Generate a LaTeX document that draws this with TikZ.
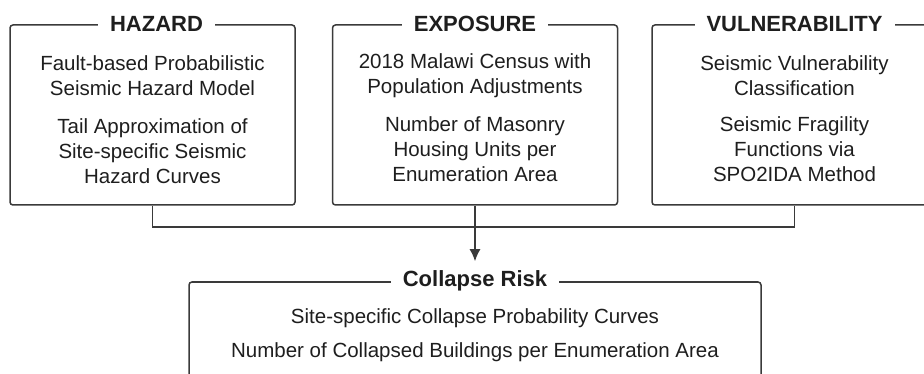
\documentclass[tikz,border=0pt]{standalone}
\usepackage{fontspec}
\setmainfont{Liberation Sans}
\usetikzlibrary{arrows.meta,positioning}
\definecolor{linegray}{HTML}{3A3A3A}
\definecolor{textgray}{HTML}{1E1E1E}
\tikzset{>={Latex[length=12pt,width=11pt]}}
\tikzstyle{stage}=[rectangle,draw=linegray,line width=1.5pt,rounded corners=3pt,minimum width=285pt,minimum height=180pt,inner sep=0pt]
\tikzstyle{heading}=[fill=white,text=textgray,font=\fontsize{22}{26}\selectfont\bfseries,inner xsep=12pt,inner ysep=2pt]
\tikzstyle{item}=[align=center,text=textgray,font=\fontsize{20.5}{25}\selectfont,inner sep=0pt]
\tikzstyle{link}=[draw=linegray,line width=1.5pt]

\begin{document}
\begin{tikzpicture}[x=1pt,y=-1pt]
	\useasboundingbox (0,0) rectangle (924,374);
	\clip (0,0) rectangle (924,374);

	\node[stage] (hazard) at (152.5,115) {};
	\node[stage] (exposure) at (475,115) {};
	\node[stage] (vulnerability) at (794.5,115) {};
	\node[stage, minimum width=572pt, minimum height=120pt] (risk) at (475,342) {};

	\node[heading, xshift=4pt] (hazardtitle) at (hazard.north) {HAZARD};
	\node[heading] (exposuretitle) at (exposure.north) {EXPOSURE};
	\node[heading] (vulnerabilitytitle) at (vulnerability.north) {VULNERABILITY};
	\node[heading] (risktitle) at (risk.north) {Collapse Risk};

	\node[item] (hazard1) at (152.5,75.5) {Fault-based Probabilistic\\Seismic Hazard Model};
	\node[item] (hazard2) at (152.5,151.5) {Tail Approximation of\\Site-specific Seismic\\Hazard Curves};
	\node[item] (exposure1) at (475,75.5) {2018 Malawi Census with\\Population Adjustments};
	\node[item] (exposure2) at (475,149.5) {Number of Masonry\\Housing Units per\\Enumeration Area};
	\node[item] (vulnerability1) at (794.5,75.5) {Seismic Vulnerability\\Classification};
	\node[item] (vulnerability2) at (794.5,149.5) {Seismic Fragility\\Functions via\\SPO2IDA Method};
	\node[item] (risk1) at (475,318) {Site-specific Collapse Probability Curves};
	\node[item] (risk2) at (475,352) {Number of Collapsed Buildings per Enumeration Area};

	\coordinate (bus) at (475,227);
	\draw[link] (hazard.south) |- (bus) -| (vulnerability.south);
	\draw[link, ->, shorten >=20pt] (exposure.south) -- (risk.north);
\end{tikzpicture}
\end{document}
